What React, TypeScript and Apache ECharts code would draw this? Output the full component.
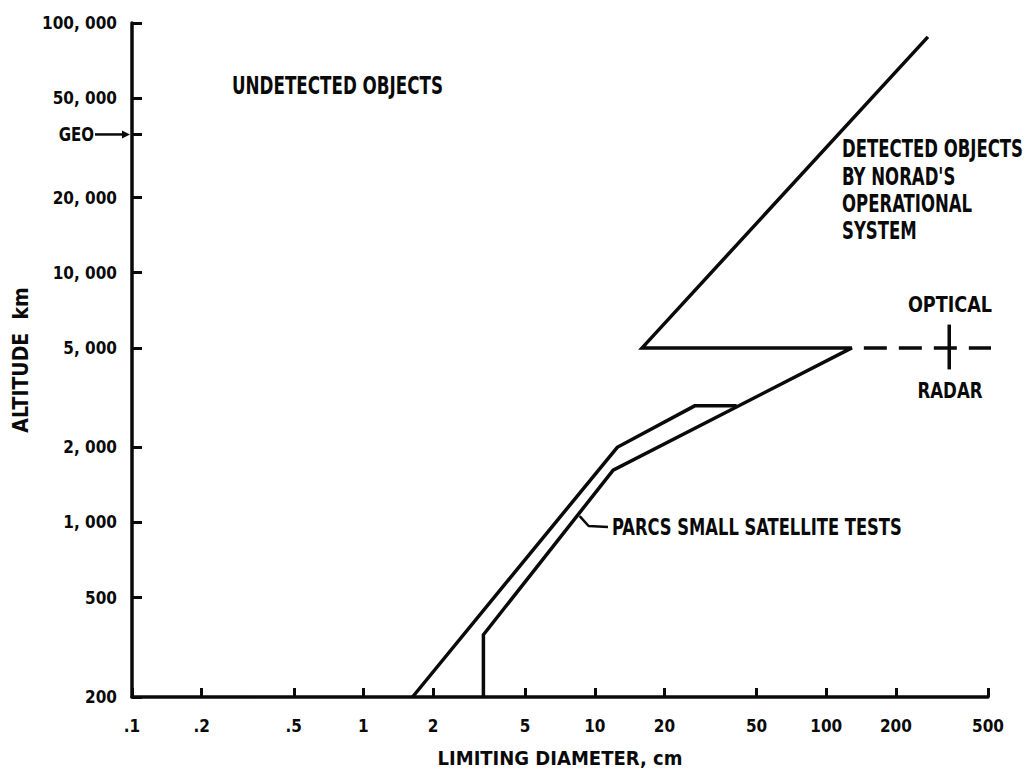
import React, { useEffect, useRef } from 'react';
import * as echarts from 'echarts';

const xTickValues = [0.1, 0.2, 0.5, 1, 2, 5, 10, 20, 50, 100, 200, 500];
const xTickLabels = ['.1', '.2', '.5', '1', '2', '5', '10', '20', '50', '100', '200', '500'];
const yTickValues = [200, 500, 1000, 2000, 5000, 10000, 20000, 50000, 100000];
const yTickLabels = ['200', '500', '1, 000', '2, 000', '5, 000', '10, 000', '20, 000', '50, 000', '100, 000'];
const geoAltitude = 35786;

// [limiting diameter cm, altitude km]
const noradBoundary = [[275, 88000], [16, 5000], [129, 5000], [12, 1620], [3.3, 355], [3.3, 200]];
const parcsBoundary = [[1.63, 200], [12.5, 2000], [27, 2930], [41, 2930]];
const opticalRadarDivide = [[129, 5000], [550, 5000]];
const opticalRadarMark = [[340, 4100], [340, 6200]];
const parcsLeader = [[8.6, 1060], [9.4, 968], [11.4, 960]];

const FONT = '"DejaVu Sans Condensed", "DejaVu Sans", sans-serif';
const INK = '#0a0a0a';

function label(text: string, x: number, y: number, size: number, scaleX: number, align = 'left') {
  return {
    type: 'text',
    x,
    y,
    scaleX,
    silent: true,
    style: {
      text,
      fill: INK,
      font: `bold ${size}px ${FONT}`,
      textAlign: align,
      textVerticalAlign: 'middle',
    },
  };
}

const annotations = [
  label('UNDETECTED OBJECTS', 232, 86, 24, 0.775),
  label('DETECTED OBJECTS', 842, 149, 24, 0.765),
  label("BY NORAD'S", 842, 177, 24, 0.765),
  label('OPERATIONAL', 842, 204, 24, 0.765),
  label('SYSTEM', 842, 231, 24, 0.765),
  label('PARCS SMALL SATELLITE TESTS', 612, 527, 23, 0.79),
  label('OPTICAL', 950, 305, 22, 0.89, 'center'),
  label('RADAR', 950, 390, 22, 0.84, 'center'),
];

export default function App() {
  const ref = useRef<HTMLDivElement>(null);
  useEffect(() => {
    document.body.style.margin = '0';
    const chart = echarts.init(ref.current!, null, { renderer: 'svg' });
    const lineBase = { type: 'line', symbol: 'none', silent: true, clip: false };
    chart.setOption({
      animation: false,
      backgroundColor: '#ffffff',
      grid: { left: 132, right: 39, top: 23, bottom: 79, outerBoundsMode: 'none' },
      xAxis: {
        type: 'log',
        logBase: 10,
        min: 0.1,
        max: 500,
        name: 'LIMITING DIAMETER, cm',
        nameLocation: 'middle',
        nameGap: 51,
        nameTextStyle: { fontFamily: FONT, fontWeight: 'bold', fontSize: 20, color: INK },
        axisLine: { lineStyle: { color: INK, width: 3.5 } },
        axisTick: { inside: true, length: 9, customValues: xTickValues, lineStyle: { color: INK, width: 3 } },
        axisLabel: {
          customValues: xTickValues,
          margin: 20,
          fontFamily: FONT,
          fontWeight: 'bold',
          fontSize: 17,
          color: INK,
          formatter: (v: number) => {
            const i = xTickValues.findIndex((t) => Math.abs(t - v) / t < 1e-6);
            return i >= 0 ? xTickLabels[i] : '';
          },
        },
        splitLine: { show: false },
        minorTick: { show: false },
      },
      yAxis: {
        type: 'log',
        logBase: 10,
        min: 200,
        max: 100000,
        name: 'ALTITUDE  km',
        nameLocation: 'middle',
        nameGap: 98,
        nameRotate: 90,
        nameTextStyle: { fontFamily: FONT, fontWeight: 'bold', fontSize: 21, color: INK },
        axisLine: { lineStyle: { color: INK, width: 3.5 } },
        axisTick: {
          inside: true,
          length: 10,
          customValues: [...yTickValues, geoAltitude],
          lineStyle: { color: INK, width: 3 },
        },
        axisLabel: {
          customValues: yTickValues,
          margin: 15,
          fontFamily: FONT,
          fontWeight: 'bold',
          fontSize: 17,
          color: INK,
          formatter: (v: number) => {
            const i = yTickValues.findIndex((t) => Math.abs(t - v) / t < 1e-6);
            return i >= 0 ? yTickLabels[i] : '';
          },
        },
        splitLine: { show: false },
        minorTick: { show: false },
      },
      series: [
        { ...lineBase, name: 'NORAD', data: noradBoundary, lineStyle: { color: INK, width: 3.5, join: 'miter' } },
        { ...lineBase, name: 'PARCS', data: parcsBoundary, lineStyle: { color: INK, width: 3.5, join: 'miter' } },
        {
          ...lineBase,
          name: 'divide',
          data: opticalRadarDivide,
          lineStyle: { color: INK, width: 3.5, type: [23, 12], dashOffset: 23 },
        },
        { ...lineBase, name: 'mark', data: opticalRadarMark, lineStyle: { color: INK, width: 3.5 } },
        { ...lineBase, name: 'leader', data: parcsLeader, lineStyle: { color: INK, width: 2.5 } },
      ],
      graphic: annotations,
    });

    // GEO marker: positioned through the axes' own scales
    const gy = chart.convertToPixel({ yAxisIndex: 0 }, geoAltitude) as number;
    const gx = chart.convertToPixel({ xAxisIndex: 0 }, xTickValues[0]) as number;
    if (isFinite(gy) && isFinite(gx)) {
      chart.setOption({
        graphic: [
          ...annotations,
          label('GEO', gx - 38, gy, 19, 0.88, 'right'),
          {
            type: 'line',
            silent: true,
            shape: { x1: gx - 37, y1: gy, x2: gx - 8, y2: gy },
            style: { stroke: INK, lineWidth: 2.5 },
          },
          {
            type: 'polygon',
            silent: true,
            shape: { points: [[gx - 10, gy - 4], [gx - 2, gy], [gx - 10, gy + 4]] },
            style: { fill: INK },
          },
        ],
      });
    }
    return () => chart.dispose();
  }, []);
  return <div ref={ref} style={{ width: 1027, height: 776 }} />;
}
